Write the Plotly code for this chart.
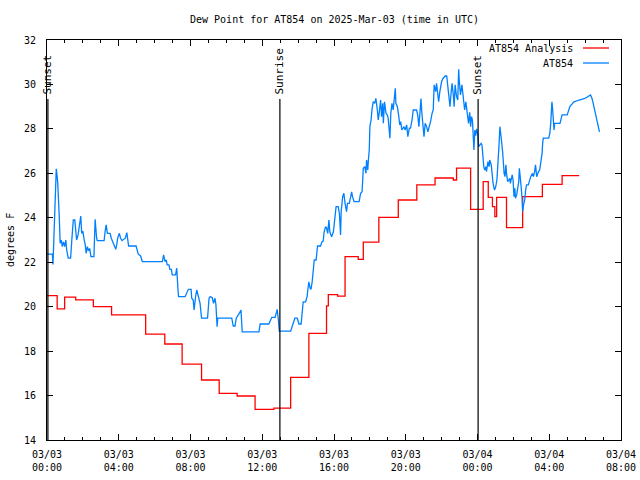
import datetime as dt
import plotly.graph_objects as go

BASE = dt.datetime(2025, 3, 3, 0, 0)

# ---- Data (minutes after 2025-03-03 00:00 UTC, dew point in F) ----
analysis_minutes = [0, 34, 59, 96, 155, 216, 330, 394, 452, 517, 576, 636, 696, 759, 815, 876,
                    935, 941, 972, 997, 1041, 1058, 1110, 1175, 1237, 1298, 1359, 1370, 1417,
                    1459, 1476, 1490, 1498, 1504, 1537, 1591, 1657, 1723, 1780]
analysis_values = [20.5, 19.9, 20.43, 20.31, 20.0, 19.63, 18.76, 18.32, 17.41, 16.7, 16.1, 15.98,
                   15.38, 15.43, 16.82, 18.8, 20.04, 20.54, 20.47, 22.25, 22.13, 22.9, 24.02, 24.8,
                   25.48, 25.79, 25.7, 26.23, 24.38, 25.63, 24.92, 24.5, 24.05, 24.92, 23.56, 24.95,
                   25.5, 25.9, 25.9]

obs_minutes = [
    0, 18, 20, 22, 27, 31, 34, 36, 41, 44,
    48, 51, 55, 59, 63, 66, 71, 79, 83, 88,
    93, 96, 99, 104, 108, 113, 116, 120, 124, 128,
    131, 135, 138, 143, 147, 157, 161, 164, 166, 168,
    191, 195, 198, 202, 211, 215, 220, 226, 230, 233,
    237, 242, 246, 251, 262, 267, 271, 273, 298, 301,
    305, 313, 319, 386, 390, 395, 399, 402, 408, 411,
    416, 419, 430, 434, 436, 438, 440, 462, 473, 482,
    484, 489, 492, 495, 497, 501, 504, 508, 512, 517,
    537, 542, 546, 553, 557, 562, 565, 569, 571, 618,
    623, 629, 633, 643, 649, 651, 653, 709, 713, 742,
    747, 752, 763, 767, 770, 774, 777, 815, 818, 824,
    829, 837, 843, 850, 853, 857, 865, 870, 873, 876,
    880, 883, 887, 891, 894, 900, 902, 905, 915, 920,
    924, 927, 932, 935, 939, 943, 946, 952, 958, 962,
    967, 974, 978, 982, 984, 989, 993, 997, 1002, 1005,
    1011, 1016, 1019, 1022, 1027, 1044, 1049, 1054, 1056, 1058,
    1063, 1067, 1069, 1073, 1075, 1078, 1080, 1084, 1087, 1091,
    1096, 1100, 1105, 1108, 1111, 1116, 1119, 1123, 1125, 1129,
    1134, 1138, 1141, 1145, 1147, 1150, 1154, 1158, 1162, 1165,
    1167, 1172, 1176, 1180, 1183, 1187, 1194, 1198, 1203, 1207,
    1212, 1216, 1221, 1225, 1236, 1240, 1244, 1248, 1251, 1254,
    1257, 1261, 1265, 1270, 1274, 1279, 1283, 1288, 1292, 1295,
    1300, 1303, 1307, 1310, 1314, 1320, 1325, 1332, 1337, 1340,
    1343, 1348, 1352, 1355, 1359, 1362, 1365, 1370, 1374, 1377,
    1379, 1383, 1388, 1392, 1397, 1401, 1405, 1410, 1414, 1417,
    1420, 1423, 1425, 1428, 1431, 1434, 1437, 1441, 1444, 1448,
    1452, 1455, 1459, 1461, 1464, 1468, 1470, 1475, 1479, 1481,
    1486, 1488, 1492, 1497, 1501, 1505, 1508, 1510, 1512, 1515,
    1517, 1520, 1524, 1526, 1529, 1532, 1535, 1537, 1541, 1545,
    1548, 1550, 1552, 1556, 1559, 1562, 1565, 1567, 1571, 1574,
    1578, 1580, 1582, 1586, 1589, 1591, 1594, 1598, 1601, 1604,
    1610, 1613, 1618, 1624, 1627, 1631, 1634, 1638, 1641, 1644,
    1648, 1651, 1653, 1656, 1658, 1660, 1678, 1682, 1685, 1687,
    1689, 1691, 1693, 1696, 1698, 1716, 1720, 1723, 1740, 1743,
    1747, 1749, 1758, 1763, 1780, 1799, 1818, 1823, 1827, 1832,
    1836, 1840, 1845, 1848,
]
obs_values = [
    22.36, 22.36, 21.9, 22.6, 24.05, 26.2, 25.85, 25.56, 24.05, 22.85,
    23.0, 22.7, 22.92, 22.7, 23.0, 22.55, 22.18, 22.18, 23.0, 23.9,
    23.9, 23.3, 23.0, 23.23, 23.68, 24.08, 23.3, 23.4, 23.03, 22.78,
    22.4, 22.7, 22.55, 22.6, 22.25, 22.25, 23.93, 23.23, 23.08, 22.97,
    22.97, 23.45, 23.68, 23.3, 23.3, 23.08, 22.92, 22.7, 22.58, 22.78,
    23.12, 23.3, 23.08, 22.97, 23.08, 23.33, 22.97, 22.73, 22.73, 22.55,
    22.37, 22.28, 22.03, 22.03, 22.33, 22.03, 22.1, 21.88, 21.88, 21.68,
    21.68, 21.43, 21.43, 21.73, 21.43, 20.78, 20.45, 20.45, 20.78, 20.78,
    20.38, 20.3, 19.85, 20.45, 20.45, 20.75, 20.6, 20.45, 20.15, 19.48,
    19.48, 20.38, 20.45, 20.4, 20.15, 20.38, 20.1, 19.1, 19.48, 19.48,
    19.13, 19.13, 19.48, 19.7, 19.85, 19.33, 18.87, 18.87, 19.22, 19.22,
    19.4, 19.52, 19.52, 19.73, 19.88, 19.4, 18.9, 18.9, 19.03, 19.22,
    19.48, 19.48, 19.22, 19.22, 19.73, 20.22, 20.22, 20.45, 20.83, 21.12,
    20.83, 20.78, 21.12, 21.73, 22.1, 22.1, 22.4, 22.73, 22.73, 22.92,
    22.95, 23.37, 23.6, 23.55, 23.3, 23.9, 23.37, 23.15, 23.37, 23.78,
    24.5, 24.5, 24.2, 23.23, 24.28, 24.95, 25.1, 24.65, 24.28, 24.65,
    24.65, 24.95, 25.17, 24.95, 24.73, 24.73, 25.1, 25.17, 25.63, 26.23,
    26.3, 26.0, 26.6, 26.15, 26.6, 27.05, 28.1, 28.4, 28.85, 29.22,
    29.15, 29.37, 28.85, 28.4, 28.7, 29.3, 28.55, 29.15, 28.25, 29.22,
    28.7, 28.63, 28.5, 28.03, 27.58, 28.7, 29.15, 28.85, 29.3, 29.83,
    29.15, 29.0, 28.63, 28.18, 28.33, 27.95, 28.1, 27.95, 28.18, 27.65,
    28.03, 28.03, 28.4, 28.85, 28.85, 28.63, 28.1, 28.85, 29.37, 28.7,
    28.25, 27.65, 28.25, 28.1, 27.87, 28.1, 28.33, 28.7, 28.85, 29.98,
    29.68, 30.05, 29.53, 29.22, 29.68, 30.13, 30.28, 30.38, 30.38, 30.05,
    29.68, 29.0, 29.68, 30.05, 29.53, 29.0, 29.98, 29.45, 29.3, 30.68,
    30.2, 29.53, 29.98, 29.45, 28.85, 29.22, 28.85, 28.25, 28.75, 28.1,
    28.55, 28.4, 27.87, 27.05, 27.95, 27.7, 28.0, 27.75, 27.2, 27.28,
    27.35, 27.28, 26.53, 26.3, 26.15, 26.3, 26.08, 26.53, 26.3, 26.6,
    26.38, 26.0, 25.55, 25.25, 25.4, 25.7, 26.23, 26.6, 27.28, 28.1,
    27.73, 27.5, 26.98, 26.38, 26.0, 25.85, 26.38, 26.0, 25.63, 25.7,
    25.78, 25.55, 25.7, 25.93, 25.7, 24.95, 25.33, 24.88, 25.03, 25.25,
    25.63, 26.23, 26.0, 25.4, 24.88, 24.28, 24.58, 24.8, 25.25, 25.48,
    25.48, 25.63, 25.85, 26.0, 25.85, 26.08, 26.38, 25.85, 26.0, 26.08,
    26.15, 26.38, 26.6, 26.9, 27.35, 27.58, 27.58, 27.8, 28.25, 28.7,
    29.22, 28.93, 28.55, 27.95, 28.25, 28.25, 28.47, 28.63, 28.63, 28.78,
    28.9, 29.0, 29.15, 29.22, 29.3, 29.37, 29.53, 29.37, 29.15, 28.85,
    28.55, 28.25, 28.03, 27.87,
]
assert len(obs_minutes) == len(obs_values)
assert len(analysis_minutes) == len(analysis_values)

# Sun events (label, minutes after start)
sun_labels = ["Sunset", "Sunrise", "Sunset"]
sun_minutes = [3, 779, 1442]
sun_line_top = 29.35

tick_hours = [0, 4, 8, 12, 16, 20, 24, 28, 32]
tick_labels = ["03/03<br>00:00", "03/03<br>04:00", "03/03<br>08:00", "03/03<br>12:00",
               "03/03<br>16:00", "03/03<br>20:00", "03/04<br>00:00", "03/04<br>04:00",
               "03/04<br>08:00"]

series_names = ["AT854 Analysis", "AT854"]
series_colors = ["#ff0000", "#0080ff"]

def t(m):
    return BASE + dt.timedelta(minutes=m)

FONT = "DejaVu Sans Mono"

fig = go.Figure()
fig.add_trace(go.Scatter(x=[t(m) for m in analysis_minutes], y=analysis_values,
                         mode="lines", line=dict(color=series_colors[0], width=1.3, shape="hv"),
                         name=series_names[0], showlegend=False))
fig.add_trace(go.Scatter(x=[t(m) for m in obs_minutes], y=obs_values,
                         mode="lines", line=dict(color=series_colors[1], width=1.3),
                         name=series_names[1], showlegend=False))

shapes = []
annotations = []
for lab, m in zip(sun_labels, sun_minutes):
    shapes.append(dict(type="line", xref="x", yref="y", x0=t(m), x1=t(m), y0=14, y1=sun_line_top,
                       line=dict(color="black", width=1.2)))
    annotations.append(dict(x=t(m), y=sun_line_top + 0.1, xref="x", yref="y", text=lab,
                            textangle=-90, showarrow=False, xanchor="center", yanchor="bottom",
                            font=dict(family=FONT, size=11, color="black")))

# legend (gnuplot style: text left of sample)
W, H = 574.0, 400.0
for i, (nm, col) in enumerate(zip(series_names, series_colors)):
    py = 48 + 15 * i
    yp = (440 - py) / H
    annotations.append(dict(x=(575 - 47) / W, y=yp, xref="paper", yref="paper", text=nm,
                            showarrow=False, xanchor="right", yanchor="middle",
                            font=dict(family=FONT, size=10, color="black")))
    shapes.append(dict(type="line", xref="paper", yref="paper", x0=(583 - 47) / W, x1=(609 - 47) / W,
                       y0=yp, y1=yp, line=dict(color=col, width=1.3)))

annotations.append(dict(x=0.5, y=(440 - 19) / H, xref="paper", yref="paper",
                        text="Dew Point for AT854 on 2025-Mar-03 (time in UTC)", showarrow=False,
                        xanchor="center", yanchor="middle",
                        font=dict(family=FONT, size=10, color="black")))
annotations.append(dict(x=(10 - 47) / W, y=0.5, xref="paper", yref="paper", text="degrees F",
                        textangle=-90, showarrow=False, xanchor="center", yanchor="middle",
                        font=dict(family=FONT, size=10, color="black")))

fig.update_layout(
    width=640, height=480,
    margin=dict(l=47, r=19, t=40, b=40, pad=0, autoexpand=False),
    paper_bgcolor="white", plot_bgcolor="white",
    font=dict(family=FONT, size=10, color="black"),
    shapes=shapes, annotations=annotations,
    xaxis=dict(type="date", range=[t(0), t(32 * 60)], automargin=False,
               tickmode="array", tickvals=[t(h * 60) for h in tick_hours], ticktext=tick_labels,
               ticks="inside", ticklen=6, tickwidth=1, tickcolor="black",
               ticklabelstandoff=5,
               showline=True, linecolor="black", linewidth=1, mirror="ticks",
               showgrid=False, zeroline=False,
               minor=dict(tickmode="linear", tick0=t(0), dtick=3600000, ticks="inside",
                          ticklen=3, tickcolor="black", showgrid=False),
               tickfont=dict(family=FONT, size=10, color="black")),
    yaxis=dict(range=[14, 32], tickmode="linear", tick0=14, dtick=2, automargin=False,
               ticks="inside", ticklen=6, tickwidth=1, tickcolor="black",
               ticklabelstandoff=8,
               showline=True, linecolor="black", linewidth=1, mirror="ticks",
               showgrid=False, zeroline=False,
               tickfont=dict(family=FONT, size=10, color="black")),
)

fig.write_html("out.html")
